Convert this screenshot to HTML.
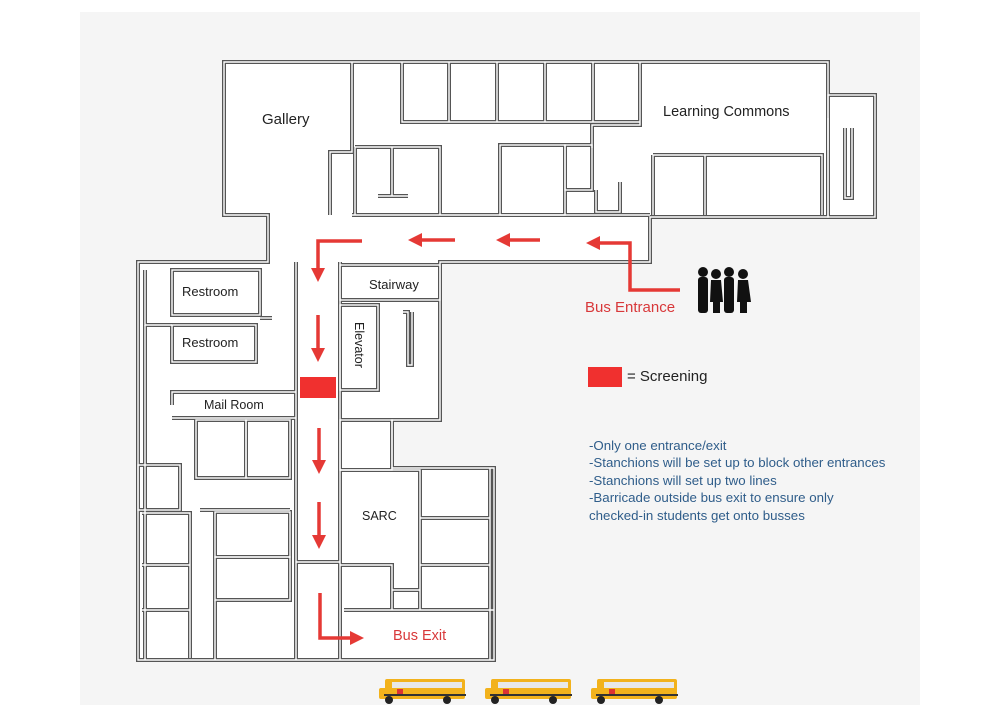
<!DOCTYPE html>
<html><head><meta charset="utf-8"><style>
html,body{margin:0;padding:0;background:#fff;}
svg{display:block;}
text{font-family:"Liberation Sans",sans-serif;}
</style></head><body>
<svg width="1000" height="715" viewBox="0 0 1000 715" xmlns="http://www.w3.org/2000/svg">
<rect x="0" y="0" width="1000" height="715" fill="#fff"/>
<rect x="80" y="12" width="840" height="693" fill="#f5f5f5"/>
<polygon points="224,62 828,62 828,217 650,217 650,262 440,262 440,420 392,420 392,468 494,468 494,660 138,660 138,262 268,262 268,215 224,215" fill="#fff"/>
<rect x="828" y="95" width="47" height="122" fill="#fff"/>
<defs>
<g id="w" fill="none">
 <polygon points="224,62 828,62 828,217 650,217 650,262 440,262 440,420 392,420 392,468 494,468 494,660 138,660 138,262 268,262 268,215 224,215"/>
 <rect x="828" y="95" width="47" height="122"/>
 <polyline points="352,62 352,152 330,152 330,215"/>
 <polyline points="402,62 402,122 640,122"/>
 <line x1="449" y1="62" x2="449" y2="122"/><line x1="497" y1="62" x2="497" y2="122"/>
 <line x1="545" y1="62" x2="545" y2="122"/><line x1="593" y1="62" x2="593" y2="122"/>
 <polyline points="640,62 640,125 592,125 592,148"/>
 <polyline points="355,147 440,147 440,215"/><line x1="392" y1="147" x2="392" y2="196"/>
 <line x1="355" y1="147" x2="355" y2="215"/><line x1="378" y1="196" x2="408" y2="196"/>
 <rect x="500" y="145" width="65" height="70"/><rect x="565" y="145" width="27" height="45"/>
 <polyline points="596,190 596,212 620,212 620,182"/>
 <polyline points="653,155 822,155 822,215"/><line x1="705" y1="155" x2="705" y2="215"/>
 <line x1="653" y1="155" x2="653" y2="215"/>
 <line x1="828" y1="118" x2="828" y2="150"/>
 <polyline points="845,128 845,198 852,198 852,128"/>
 <line x1="352" y1="215" x2="650" y2="215"/>
 <line x1="296" y1="262" x2="296" y2="660"/>
 <line x1="340" y1="262" x2="340" y2="660"/>
 <rect x="340" y="265" width="100" height="35"/>
 <rect x="340" y="305" width="38" height="85"/>
 <polyline points="403,312 408,312 408,365 412,365 412,312"/>
 <rect x="340" y="420" width="52" height="50"/>
 <polyline points="340,470 420,470 420,610"/>
 <line x1="420" y1="518" x2="490" y2="518"/><line x1="420" y1="565" x2="490" y2="565"/>
 <polyline points="340,565 392,565 392,610"/><line x1="392" y1="590" x2="420" y2="590"/>
 <line x1="344" y1="610" x2="494" y2="610"/><line x1="490" y1="468" x2="490" y2="660"/>
 <line x1="296" y1="562" x2="340" y2="562"/>
 <rect x="172" y="270" width="88" height="45"/>
 <rect x="172" y="325" width="84" height="37"/>
 <polyline points="145,270 145,325 172,325"/>
 <line x1="145" y1="325" x2="145" y2="660"/>
 <line x1="260" y1="318" x2="272" y2="318"/>
 <polyline points="172,405 172,392 296,392"/><line x1="172" y1="418" x2="296" y2="418"/>
 <rect x="196" y="420" width="50" height="58"/><rect x="246" y="420" width="44" height="58"/>
 <rect x="138" y="465" width="42" height="45"/>
 <polyline points="142,513 190,513 190,658"/>
 <line x1="142" y1="565" x2="190" y2="565"/><line x1="142" y1="610" x2="190" y2="610"/>
 <rect x="215" y="512" width="75" height="45"/><rect x="215" y="557" width="75" height="43"/>
 <line x1="215" y1="600" x2="215" y2="660"/><line x1="200" y1="510" x2="290" y2="510"/>
</g>
</defs>
<use href="#w" stroke="#555" stroke-width="4"/>
<use href="#w" stroke="#fff" stroke-width="1.4"/>
<g stroke="#e53935" stroke-width="3.5" fill="none">
 <polyline points="362,241 318,241 318,270"/>
 <line x1="455" y1="240" x2="420" y2="240"/>
 <line x1="540" y1="240" x2="508" y2="240"/>
 <polyline points="680,290 630,290 630,243 598,243"/>
 <line x1="318" y1="315" x2="318" y2="350"/>
 <line x1="319" y1="428" x2="319" y2="462"/>
 <line x1="319" y1="502" x2="319" y2="537"/>
 <polyline points="320,593 320,638 352,638"/>
</g>
<g fill="#e53935">
 <polygon points="311,268 325,268 318,282"/>
 <polygon points="422,233 422,247 408,240"/>
 <polygon points="510,233 510,247 496,240"/>
 <polygon points="600,236 600,250 586,243"/>
 <polygon points="311,348 325,348 318,362"/>
 <polygon points="312,460 326,460 319,474"/>
 <polygon points="312,535 326,535 319,549"/>
 <polygon points="350,631 350,645 364,638"/>
</g>
<rect x="300" y="377" width="36" height="21" fill="#f0302f"/>
<rect x="588" y="367" width="34" height="20" fill="#f0302f"/>
<g fill="#222" font-size="14">
 <text x="262" y="124" font-size="15">Gallery</text>
 <text x="663" y="116" font-size="14.5">Learning Commons</text>
 <text x="369" y="289" font-size="13">Stairway</text>
 <text x="182" y="296" font-size="13">Restroom</text>
 <text x="182" y="347" font-size="13">Restroom</text>
 <text x="204" y="409" font-size="12.5">Mail Room</text>
 <text x="362" y="520" font-size="12.5">SARC</text>
 <text x="355" y="322" font-size="12.5" transform="rotate(90 355 322)">Elevator</text>
</g>
<text x="627" y="381" font-size="15" fill="#222">= Screening</text>
<text x="585" y="312" font-size="15" fill="#d8383a">Bus Entrance</text>
<text x="393" y="640" font-size="14.5" fill="#d8383a">Bus Exit</text>
<g fill="#2f5d8a" font-size="13.3">
 <text x="589" y="450">-Only one entrance/exit</text>
 <text x="589" y="467">-Stanchions will be set up to block other entrances</text>
 <text x="589" y="485">-Stanchions will set up two lines</text>
 <text x="589" y="502">-Barricade outside bus exit to ensure only</text>
 <text x="589" y="520">checked-in students get onto busses</text>
</g>
<g fill="#111">
 <circle cx="703" cy="272" r="5"/><rect x="698" y="277" width="10" height="36" rx="3"/>
 <circle cx="716" cy="274" r="5"/><path d="M711 280 h10 l2 22 h-3 v11 h-7 v-11 h-3z"/>
 <circle cx="729" cy="272" r="5"/><rect x="724" y="277" width="10" height="36" rx="3"/>
 <circle cx="743" cy="274" r="5"/><path d="M738 280 h10 l3 22 h-4 v11 h-7 v-11 h-3z"/>
</g>
<g id="bus">
 <rect x="385" y="679" width="80" height="20" rx="2" fill="#f2b21c"/>
 <rect x="379" y="688" width="10" height="11" rx="2" fill="#f2b21c"/>
 <rect x="392" y="682" width="70" height="6" fill="#e8e8e8"/>
 <rect x="384" y="694" width="82" height="2" fill="#333"/>
 <rect x="397" y="689" width="6" height="5" fill="#d33"/>
 <circle cx="389" cy="700" r="4" fill="#222"/><circle cx="447" cy="700" r="4" fill="#222"/>
</g>
<use href="#bus" x="106"/>
<use href="#bus" x="212"/>
</svg>
</body></html>
